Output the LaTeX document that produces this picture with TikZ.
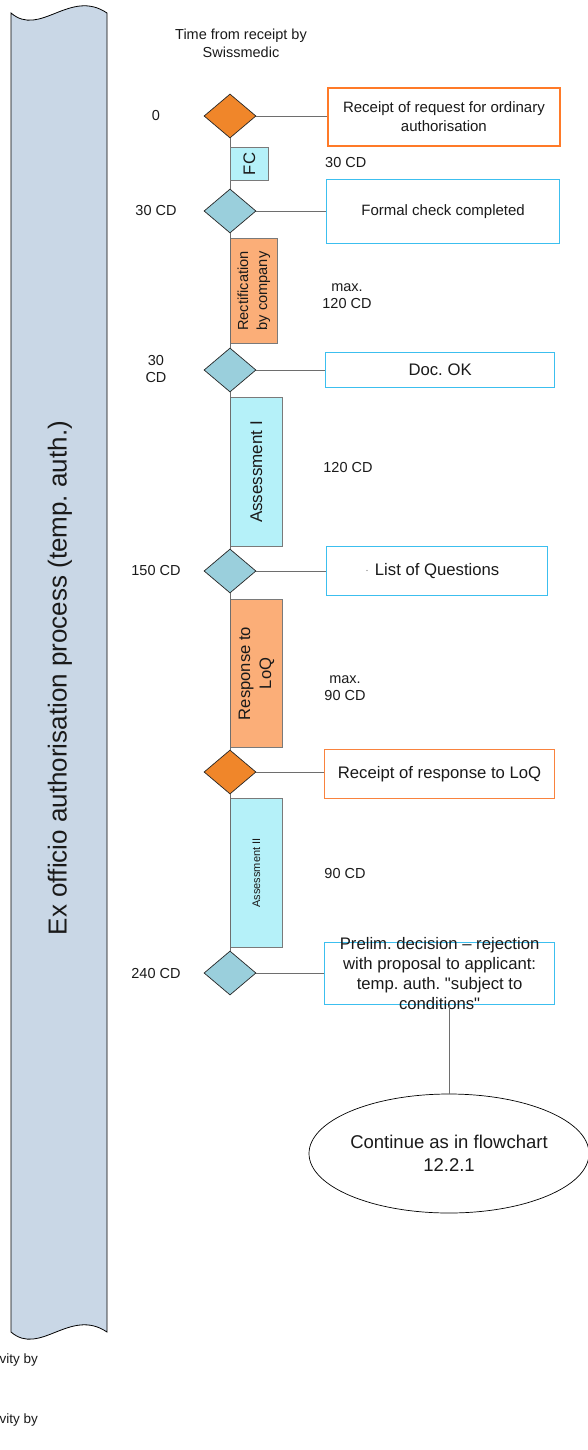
\documentclass[tikz,border=0pt]{standalone}
\usepackage{fontspec}
\setmainfont{Liberation Sans}[Ligatures=TeXOff]
\usetikzlibrary{shapes.geometric}
\frenchspacing

\definecolor{bannerfill}{HTML}{C9D7E6}
\definecolor{orangefill}{HTML}{F0862A}
\definecolor{bluefill}{HTML}{9ACFDC}
\definecolor{cyanfill}{HTML}{B5F1F9}
\definecolor{peachfill}{HTML}{FBAE78}
\definecolor{orangeline}{HTML}{FF7A28}
\definecolor{orangeline2}{HTML}{F9833E}
\definecolor{blueline}{HTML}{3CBFEF}
\definecolor{connline}{HTML}{6E6E6E}
\definecolor{boxgrey}{HTML}{7A7A7A}
\definecolor{ink}{HTML}{1A1A1A}

\tikzset{
  every node/.style={text=ink},
  milestone/.style={diamond, draw=black!85, line width=0.7pt, inner sep=0pt,
    minimum width=52pt, minimum height=44pt},
  msorange/.style={milestone, fill=orangefill},
  msblue/.style={milestone, fill=bluefill},
  phase/.style={rectangle, draw=boxgrey, line width=0.9pt, inner sep=0pt, anchor=north west},
  phasecyan/.style={phase, fill=cyanfill},
  phasepeach/.style={phase, fill=peachfill},
  eventbox/.style={rectangle, fill=white, inner sep=0pt, anchor=north west, align=center},
  eventorange/.style={eventbox, draw=orangeline, line width=1.8pt},
  eventorangethin/.style={eventbox, draw=orangeline2, line width=1.1pt},
  eventblue/.style={eventbox, draw=blueline, line width=1.2pt},
  conn/.style={draw=connline, line width=0.9pt},
  timelabel/.style={font=\fontsize{14.5}{17.5}\selectfont, align=center, inner sep=0pt},
}

\begin{document}
\begin{tikzpicture}[x=1pt,y=-1pt]
\useasboundingbox (0,0) rectangle (588,1450);
\clip (0,0) rectangle (588,1450);

% lane banner with wavy ends
\draw[fill=bannerfill, draw=black, line width=0.8pt]
  (11,13) .. controls (40,38) and (70,-12) .. (107,13)
  -- (107,1332)
  .. controls (70,1307) and (40,1357) .. (11,1332) -- cycle;
\node[rotate=90, font=\fontsize{26}{30}\selectfont] (lane) at (60,678)
  {Ex officio authorisation process (temp. auth.)};

% column heading
\node[timelabel, font=\fontsize{14.5}{18}\selectfont] (head) at (241,43) {Time from receipt by\\Swissmedic};

% milestones
\node[msorange] (d1) at (230,116) {};
\node[msblue]   (d2) at (230,211) {};
\node[msblue]   (d3) at (230,370) {};
\node[msblue]   (d4) at (230,571) {};
\node[msorange] (d5) at (230,772) {};
\node[msblue]   (d6) at (230,973) {};

% phase bars
\node[phasecyan, minimum width=38pt, minimum height=33pt] (fc) at (230,147) {};
\node[rotate=90, font=\fontsize{16.7}{20}\selectfont] at (fc) {FC};

\node[phasepeach, minimum width=47pt, minimum height=105pt] (rect) at (230,238) {};
\node[rotate=90, align=center, font=\fontsize{14.6}{19}\selectfont] at (rect) {Rectification\\by company};

\node[phasecyan, minimum width=52pt, minimum height=149pt] (ass1) at (230,397) {};
\node[rotate=90, font=\fontsize{17}{20}\selectfont] at (ass1) {Assessment I};

\node[phasepeach, minimum width=52pt, minimum height=148pt] (resp) at (230,599) {};
\node[rotate=90, align=center, font=\fontsize{16.6}{21}\selectfont] at (resp) {Response to\\LoQ};

\node[phasecyan, minimum width=52pt, minimum height=149pt] (ass2) at (230,798) {};
\node[rotate=90, font=\fontsize{11}{13}\selectfont] at (ass2) {Assessment II};

% vertical flow
\draw[conn] (d1.south) -- (fc.north west);
\draw[conn] (fc.south west) -- (d2.north);
\draw[conn] (d2.south) -- (d3.north);
\draw[conn] (d3.south) -- (d4.north);
\draw[conn] (d4.south) -- (d5.north);
\draw[conn] (d5.south) -- (d6.north);

% events
\node[eventorange, minimum width=232pt, minimum height=58pt,
  font=\fontsize{15}{19}\selectfont] (b1) at (327,87)
  {Receipt of request for ordinary\\authorisation};
\node[eventblue, minimum width=233pt, minimum height=64pt,
  font=\fontsize{15}{18}\selectfont] (b2) at (326,179) {Formal check completed};
\node[eventblue, minimum width=229pt, minimum height=35pt,
  font=\fontsize{16.7}{20}\selectfont] (b3) at (325,352) {Doc.\ OK};
\node[eventblue, minimum width=221pt, minimum height=49pt,
  font=\fontsize{16.7}{20}\selectfont] (b4) at (326,546) {List of Questions};
\fill[connline] (367,570.5) circle (0.7);
\node[eventorangethin, minimum width=230pt, minimum height=49pt,
  font=\fontsize{16.7}{20}\selectfont] (b5) at (324,749) {Receipt of response to LoQ};
\node[eventblue, minimum width=230pt, minimum height=62pt] (b6) at (324,942) {};
\node[align=center, inner sep=0pt, font=\fontsize{16.7}{20}\selectfont] (b6t) at (b6)
  {Prelim. decision – rejection\\with proposal to applicant:\\temp. auth. "subject to\\conditions"};

% horizontal links
\draw[conn] (d1.east) -- (d1.east -| b1.west);
\draw[conn] (d2.east) -- (d2.east -| b2.west);
\draw[conn] (d3.east) -- (d3.east -| b3.west);
\draw[conn] (d4.east) -- (d4.east -| b4.west);
\draw[conn] (d5.east) -- (d5.east -| b5.west);
\draw[conn] (d6.east) -- (d6.east -| b6.west);

% continuation
\node[ellipse, draw=black, line width=0.7pt, minimum width=280pt, minimum height=119pt,
  inner sep=0pt, align=center, font=\fontsize{18.5}{23}\selectfont] (cont) at (449,1153.5)
  {Continue as in flowchart\\12.2.1};
\draw[conn] (cont.north |- b6.south) -- (cont.north);

% time labels, left column
\node[timelabel] (t0)   at (156,116) {0};
\node[timelabel] (t30)  at (156,211) {30 CD};
\node[timelabel] (t30b) at (156,369) {30\\CD};
\node[timelabel] (t150) at (156,571) {150 CD};
\node[timelabel] (t240) at (156,973) {240 CD};

% durations, right column
\node[timelabel, anchor=west] (p1) at (325,163) {30 CD};
\node[timelabel] (p2) at (347,296) {max.\\120 CD};
\node[timelabel] (p3) at (348,468) {120 CD};
\node[timelabel] (p4) at (345,688) {max.\\90 CD};
\node[timelabel] (p5) at (345,873) {90 CD};

% legend entries, running off the left edge
\node[anchor=base east, inner sep=0pt, font=\fontsize{13.5}{16}\selectfont] (leg1) at (38,1363) {Activity by};
\node[anchor=base east, inner sep=0pt, font=\fontsize{13.5}{16}\selectfont] (leg2) at (38,1423) {Activity by};
\end{tikzpicture}
\end{document}
